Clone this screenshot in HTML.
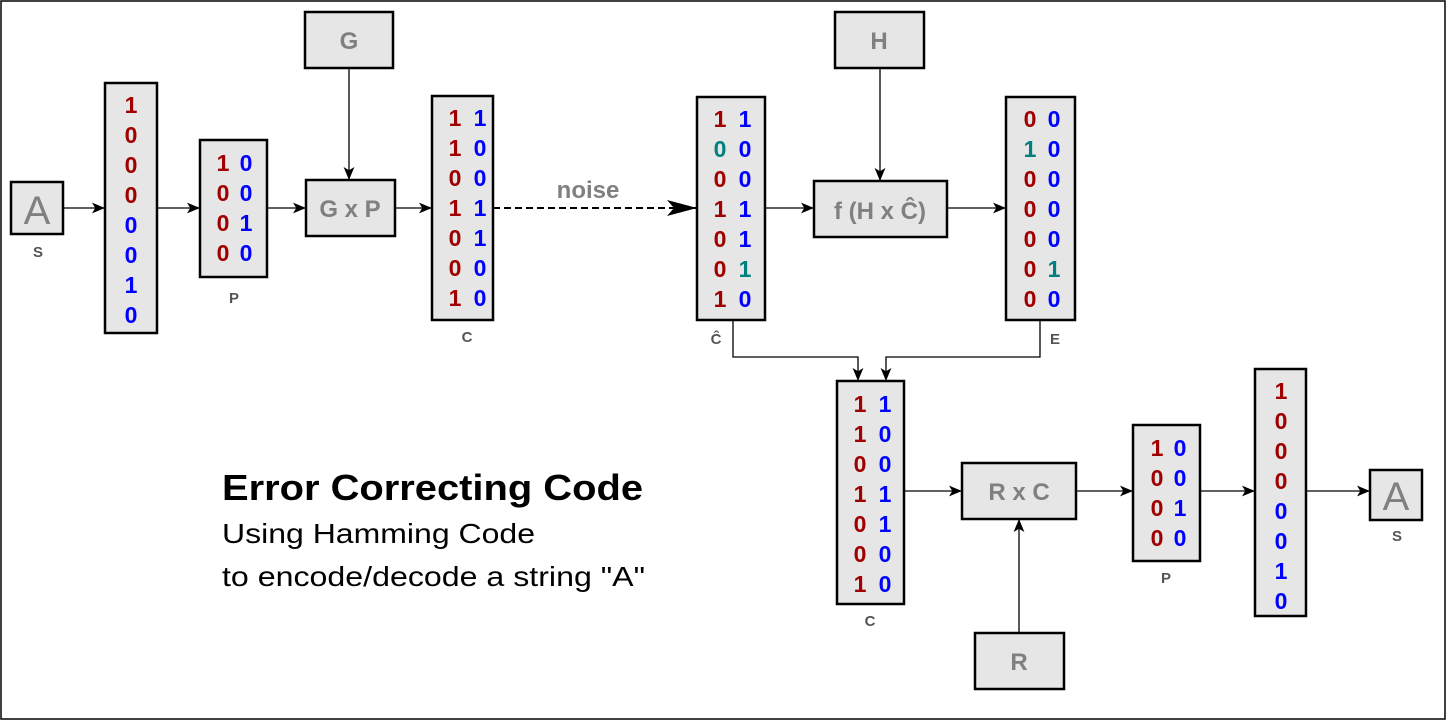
<!DOCTYPE html>
<html><head><meta charset="utf-8">
<style>
html,body{margin:0;padding:0;background:#fff;}
svg{display:block;font-family:"Liberation Sans",Arial,sans-serif;}
</style></head>
<body>
<svg id="s" width="1446" height="720" viewBox="0 0 1446 720" xmlns="http://www.w3.org/2000/svg">
<defs>
<marker id="ah" viewBox="0 0 12 10" refX="12" refY="5" markerWidth="13" markerHeight="11" orient="auto" markerUnits="userSpaceOnUse">
<path d="M0,0 L12,5 L0,10 L3,5 z" fill="#000"/></marker>
<marker id="ahs" viewBox="0 0 30 16" refX="30" refY="8" markerWidth="30" markerHeight="16" orient="auto" markerUnits="userSpaceOnUse">
<path d="M0,0 L30,8 L0,16 L7,8 z" fill="#000"/></marker>
</defs>
<rect x="1" y="1" width="1444" height="718" fill="#fff" stroke="#000" stroke-width="1.5"/>
<g id="lines" stroke="#000" stroke-width="1.3" fill="none"></g>
<g id="boxes"></g>
<text x="222" y="500" font-size="36" font-weight="bold" fill="#000" textLength="421" lengthAdjust="spacingAndGlyphs">Error Correcting Code</text>
<text x="222" y="543" font-size="28" fill="#000" textLength="313" lengthAdjust="spacingAndGlyphs">Using Hamming Code</text>
<text x="222" y="586" font-size="28" fill="#000" textLength="423" lengthAdjust="spacingAndGlyphs">to encode/decode a string "A"</text>
<text x="588" y="198" font-size="24" font-weight="bold" fill="#808080" text-anchor="middle">noise</text>
</svg>
<script>
const R='#a00000',B='#0000ff',T='#008080';
const sBits=['1','0','0','0','0','0','1','0'];
const sColors=[R,R,R,R,B,B,B,B];
const pCol1=['1','0','0','0'], pCol2=['0','0','1','0'];
const cCol1=['1','1','0','1','0','0','1'], cCol2=['1','0','0','1','1','0','0'];
const chCol1=['1','0','0','1','0','0','1'], chCol2=['1','0','0','1','1','1','0'];
const eCol1=['0','1','0','0','0','0','0'], eCol2=['0','0','0','0','0','1','0'];
const NS='http://www.w3.org/2000/svg';
const boxes=document.getElementById('boxes'), lines=document.getElementById('lines');
function mk(tag,attrs,parent){const e=document.createElementNS(NS,tag);for(const k in attrs)e.setAttribute(k,attrs[k]);parent.appendChild(e);return e;}
function box(x,y,w,h,name){const r=mk('rect',{x:x,y:y,width:w,height:h,fill:'#e6e6e6',stroke:'#000','stroke-width':2.5},boxes);

return r;}
function txt(x,y,s,size,color,name,weight){const t=mk('text',{x:x,y:y,'font-size':size,fill:color,'text-anchor':'middle','font-weight':weight||'bold'},boxes);t.textContent=s;

return t;}
function col(x,y0,arr,colors,name){arr.forEach((v,i)=>{txt(x,y0+i*30,v,23,typeof colors==='function'?colors(i):colors,name);});}
function line(pts,name,mk2){const p=mk('polyline',{points:pts.map(a=>a.join(',')).join(' ')},lines);if(mk2!==false)p.setAttribute('marker-end','url(#ah)');

return p;}
line([[63,208],[105,208]],'arrow-s-to-bits');
line([[157,208],[200,208]],'arrow-bits-to-p');
line([[267,208],[306,208]],'arrow-p-to-gxp');
line([[395,208],[432,208]],'arrow-gxp-to-c');
line([[349,68],[349,180]],'arrow-g-to-gxp');
const nz=line([[493,208],[697,208]],'noise-arrow',false);nz.setAttribute('stroke-dasharray','7,4');nz.setAttribute('stroke-width','2');nz.setAttribute('marker-end','url(#ahs)');
line([[765,208],[814,208]],'arrow-chat-to-f');
line([[947,208],[1006,208]],'arrow-f-to-e');
line([[880,68],[880,181]],'arrow-h-to-f');
line([[733,320],[733,357],[858,357],[858,381]],'arrow-chat-to-c2');
line([[1040,320],[1040,357],[886,357],[886,381]],'arrow-e-to-c2');
line([[904,491],[962,491]],'arrow-c2-to-rxc');
line([[1076,491],[1133,491]],'arrow-rxc-to-p2');
line([[1200,491],[1255,491]],'arrow-p2-to-bits2');
line([[1306,491],[1370,491]],'arrow-bits2-to-s2');
line([[1019,633],[1019,519]],'arrow-r-to-rxc');
box(11,182,52,52,'s-box');txt(37,224,'A',40,'#808080','s-letter','normal');txt(38,257,'S',15,'#555','s-label');
box(105,83,52,250,'bits-box');col(131,113,sBits,i=>sColors[i],'bit');
box(200,140,67,137,'p-box');col(223,171,pCol1,R,'p-bit');col(246,171,pCol2,B,'p-bit');txt(234,303,'P',15,'#555','p-label');
box(305,12,88,56,'g-box');txt(349,49,'G',24,'#808080','g-letter');
box(306,180,89,56,'gxp-box');txt(350,217,'G x P',24,'#808080','gxp-text');
box(432,96,61,224,'c-box');col(455,126,cCol1,R,'c-bit');col(480,126,cCol2,B,'c-bit');txt(467,342,'C',15,'#555','c-label');
box(697,97,68,223,'chat-box');col(720,127,chCol1,i=>i===1?T:R,'chat-bit');col(745,127,chCol2,i=>i===5?T:B,'chat-bit');txt(716,344,'Ĉ',15,'#555','chat-label');
box(835,12,89,56,'h-box');txt(879,49,'H',24,'#808080','h-letter');
box(814,181,133,56,'f-box');txt(880,219,'f (H x Ĉ)',24,'#808080','f-text');
box(1006,97,69,223,'e-box');col(1030,127,eCol1,i=>i===1?T:R,'e-bit');col(1054,127,eCol2,i=>i===5?T:B,'e-bit');txt(1055,344,'E',15,'#555','e-label');
box(837,381,67,223,'c2-box');col(860,412,cCol1,R,'c2-bit');col(885,412,cCol2,B,'c2-bit');txt(870,626,'C',15,'#555','c2-label');
box(962,463,114,56,'rxc-box');txt(1019,500,'R x C',24,'#808080','rxc-text');
box(975,633,89,56,'r-box');txt(1019,670,'R',24,'#808080','r-letter');
box(1133,425,67,136,'p2-box');col(1157,456,pCol1,R,'p2-bit');col(1180,456,pCol2,B,'p2-bit');txt(1166,583,'P',15,'#555','p2-label');
box(1255,369,51,247,'bits2-box');col(1281,399,sBits,i=>sColors[i],'bit2');
box(1370,470,52,50,'s2-box');txt(1396,510,'A',40,'#808080','s2-letter','normal');txt(1397,541,'S',15,'#555','s2-label');
</script>
</body></html>
